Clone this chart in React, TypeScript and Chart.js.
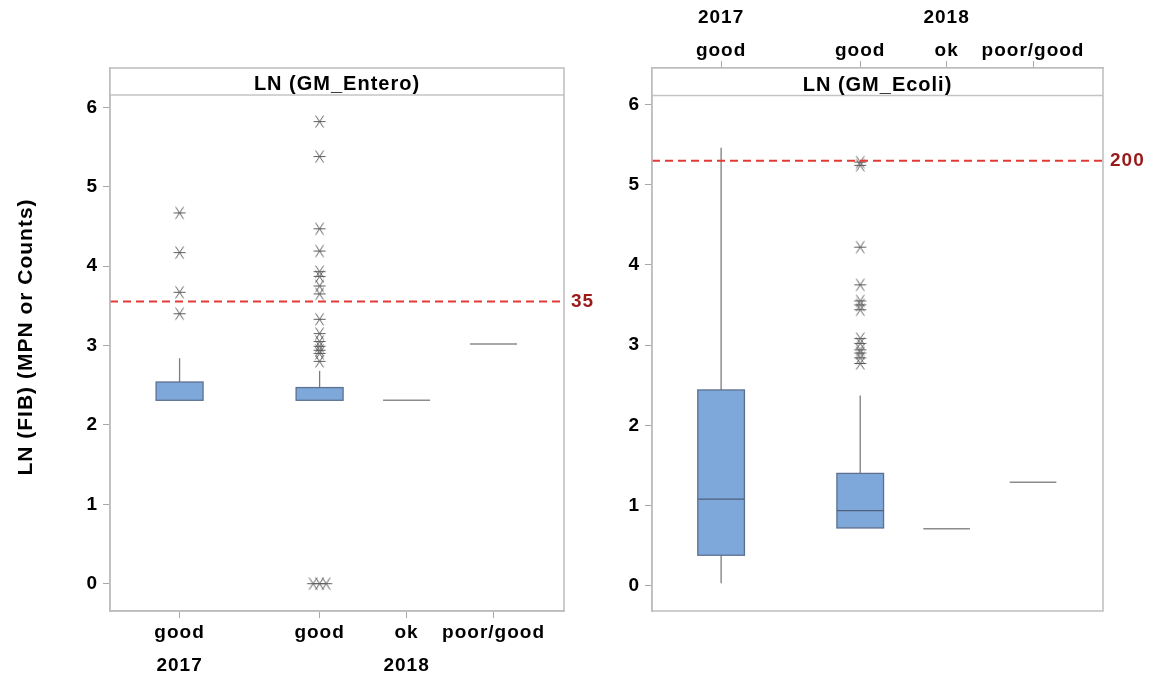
import React, { useEffect, useRef } from 'react';
import { Chart, registerables } from 'chart.js';
Chart.register(...registerables);

const FONT = "'Liberation Sans', Arial, sans-serif";

// Categories (shared by both panels)
const catPositions = [0.8, 2.41, 3.41, 4.41];
const catLabels = ['good', 'good', 'ok', 'poor/good'];
const yearPositions = [0.8, 3.41];
const yearLabels = ['2017', '2018'];
const yTickValues = [0, 1, 2, 3, 4, 5, 6];
const xMin = 0;
const xMax = 5.22;
const yAxisTitle = 'LN (FIB) (MPN or Counts)';

// LN(GM_Entero)
const enteroTitle = 'LN (GM_Entero)';
const enteroWhiskerLow = [2.31, 2.31, 2.31, 3.02];
const enteroQ1 = [2.31, 2.31, 2.31, 3.02];
const enteroMedian = [2.31, 2.31, 2.31, 3.02];
const enteroQ3 = [2.54, 2.47, 2.31, 3.02];
const enteroWhiskerHigh = [2.84, 2.68, 2.31, 3.02];
const enteroOutliers2017Good = [4.67, 4.17, 3.67, 3.4];
const enteroOutliers2018Good = [5.82, 5.38, 4.47, 4.19, 3.93, 3.87, 3.75, 3.65, 3.33, 3.15, 3.05, 2.99, 2.94, 2.9, 2.8];
const enteroZeros2018Good = [0, 0, 0];
const enteroZeroJitter = [-0.075, 0, 0.075];
const enteroRefValue = 3.555; // ln(35)
const enteroRefLabel = '35';

// LN(GM_Ecoli)
const ecoliTitle = 'LN (GM_Ecoli)';
const ecoliWhiskerLow = [0.03, 0.72, 0.71, 1.29];
const ecoliQ1 = [0.38, 0.72, 0.71, 1.29];
const ecoliMedian = [1.08, 0.935, 0.71, 1.29];
const ecoliQ3 = [2.44, 1.4, 0.71, 1.29];
const ecoliWhiskerHigh = [5.46, 2.37, 0.71, 1.29];
const ecoliOutliers2018Good = [5.28, 5.24, 4.22, 3.75, 3.55, 3.5, 3.44, 3.08, 3.02, 2.94, 2.9, 2.84, 2.77];
const ecoliRefValue = 5.298; // ln(200)
const ecoliRefLabel = '200';

function makeAsterisk(): HTMLCanvasElement {
  const c = document.createElement('canvas');
  c.width = 15;
  c.height = 15;
  const g = c.getContext('2d')!;
  g.strokeStyle = '#5c5c5c';
  g.lineWidth = 1;
  g.beginPath();
  g.moveTo(1.5, 7.5);
  g.lineTo(13.5, 7.5);
  g.moveTo(3.5, 1.5);
  g.lineTo(11.5, 13.5);
  g.moveTo(11.5, 1.5);
  g.lineTo(3.5, 13.5);
  g.stroke();
  return c;
}

type Spec = {
  title: string;
  low: number[];
  q1: number[];
  med: number[];
  q3: number[];
  high: number[];
  outliers: { x: number; y: number }[];
  ref: number;
  refLabel: string;
  yMin: number;
  yMax: number;
  boxHalf: number;
  axisPos: 'top' | 'bottom';
  yAxisWidth: number;
  catAxisHeight: number;
  yearAxisHeight: number;
  catPad: number;
  yearPad: number;
  padding: { left: number; right: number; top: number; bottom: number };
  stripH: number;
  showYTitle: boolean;
};

function panelPlugin(spec: Spec) {
  return {
    id: 'panelDecor',
    beforeDraw(chart: any) {
      chart.ctx.letterSpacing = '1px';
    },
    beforeDatasetsDraw(chart: any) {
      const { ctx, scales } = chart;
      const x = scales.x;
      const y = scales.y;
      ctx.save();
      for (let i = 0; i < catPositions.length; i++) {
        const cx = x.getPixelForValue(catPositions[i]);
        const hw = x.getPixelForValue(catPositions[i] + spec.boxHalf) - cx;
        const pq1 = y.getPixelForValue(spec.q1[i]);
        const pq3 = y.getPixelForValue(spec.q3[i]);
        const pm = y.getPixelForValue(spec.med[i]);
        const plo = y.getPixelForValue(spec.low[i]);
        const phi = y.getPixelForValue(spec.high[i]);
        ctx.strokeStyle = '#7c7c7c';
        ctx.lineWidth = 1.3;
        if (spec.high[i] > spec.q3[i]) {
          ctx.beginPath();
          ctx.moveTo(cx, pq3);
          ctx.lineTo(cx, phi);
          ctx.stroke();
        }
        if (spec.low[i] < spec.q1[i]) {
          ctx.beginPath();
          ctx.moveTo(cx, pq1);
          ctx.lineTo(cx, plo);
          ctx.stroke();
        }
        if (spec.q3[i] > spec.q1[i]) {
          ctx.fillStyle = '#7ea8da';
          ctx.fillRect(cx - hw, pq3, 2 * hw, pq1 - pq3);
          ctx.strokeStyle = '#5d7090';
          ctx.lineWidth = 1.3;
          ctx.strokeRect(cx - hw, pq3, 2 * hw, pq1 - pq3);
          if (spec.med[i] > spec.q1[i] && spec.med[i] < spec.q3[i]) {
            ctx.strokeStyle = '#4f6078';
            ctx.beginPath();
            ctx.moveTo(cx - hw, pm);
            ctx.lineTo(cx + hw, pm);
            ctx.stroke();
          }
        } else {
          ctx.strokeStyle = '#8c8c8c';
          ctx.lineWidth = 1.5;
          ctx.beginPath();
          ctx.moveTo(cx - hw, pm);
          ctx.lineTo(cx + hw, pm);
          ctx.stroke();
        }
      }
      ctx.restore();
    },
    afterDraw(chart: any) {
      const { ctx, chartArea, scales } = chart;
      const { left, right, top, bottom } = chartArea;
      ctx.save();
      // strip
      ctx.fillStyle = '#ffffff';
      ctx.fillRect(left, top, right - left, spec.stripH);
      ctx.strokeStyle = '#c4c4c4';
      ctx.lineWidth = 1.3;
      ctx.beginPath();
      ctx.moveTo(left, top + spec.stripH);
      ctx.lineTo(right, top + spec.stripH);
      ctx.stroke();
      // frame
      ctx.strokeStyle = '#bdbdbd';
      ctx.lineWidth = 1.5;
      ctx.strokeRect(left, top, right - left, bottom - top);
      // title
      ctx.letterSpacing = '1px';
      ctx.fillStyle = '#000';
      ctx.font = `bold 20px ${FONT}`;
      ctx.textAlign = 'center';
      ctx.textBaseline = 'alphabetic';
      ctx.fillText(spec.title, (left + right) / 2, top + spec.stripH - 5);
      // reference label
      const ry = scales.y.getPixelForValue(spec.ref);
      ctx.fillStyle = '#9a1a1a';
      ctx.font = `bold 19px ${FONT}`;
      ctx.textAlign = 'left';
      ctx.textBaseline = 'middle';
      ctx.fillText(spec.refLabel, right + 7, ry);
      if (spec.showYTitle) {
        ctx.translate(26, 337);
        ctx.rotate(-Math.PI / 2);
        ctx.fillStyle = '#000';
        ctx.font = `bold 21px ${FONT}`;
        ctx.textAlign = 'center';
        ctx.textBaseline = 'middle';
        ctx.fillText(yAxisTitle, 0, 0);
      }
      ctx.restore();
    },
  };
}

function buildConfig(spec: Spec, star: HTMLCanvasElement): any {
  return {
    type: 'scatter',
    data: {
      datasets: [
        {
          type: 'line',
          data: [
            { x: xMin, y: spec.ref },
            { x: xMax, y: spec.ref },
          ],
          borderColor: '#e33a36',
          borderWidth: 2,
          borderDash: [8, 5],
          pointRadius: 0,
          fill: false,
        },
        {
          type: 'scatter',
          data: spec.outliers,
          pointStyle: star,
          pointRadius: 6,
        },
      ],
    },
    plugins: [panelPlugin(spec)],
    options: {
      responsive: false,
      animation: false,
      events: [],
      layout: { padding: spec.padding },
      plugins: { legend: { display: false }, tooltip: { enabled: false }, title: { display: false } },
      scales: {
        x: {
          type: 'linear',
          position: spec.axisPos,
          min: xMin,
          max: xMax,
          weight: 0,
          afterBuildTicks: (s: any) => {
            s.ticks = catPositions.map((v) => ({ value: v }));
          },
          afterFit: (s: any) => {
            s.height = spec.catAxisHeight;
          },
          ticks: {
            autoSkip: false,
            maxRotation: 0,
            padding: spec.catPad,
            color: '#000',
            font: { family: FONT, size: 19, weight: 'bold' },
            callback: (_v: any, i: number) => catLabels[i],
          },
          grid: { drawOnChartArea: false, drawTicks: true, tickLength: 7, color: '#a8a8a8', lineWidth: 1 },
          border: { display: true, color: '#bdbdbd', width: 1.5 },
        },
        x2: {
          type: 'linear',
          position: spec.axisPos,
          min: xMin,
          max: xMax,
          weight: 1,
          afterBuildTicks: (s: any) => {
            s.ticks = yearPositions.map((v) => ({ value: v }));
          },
          afterFit: (s: any) => {
            s.height = spec.yearAxisHeight;
          },
          ticks: {
            autoSkip: false,
            maxRotation: 0,
            padding: spec.yearPad,
            color: '#000',
            font: { family: FONT, size: 19, weight: 'bold' },
            callback: (_v: any, i: number) => yearLabels[i],
          },
          grid: { display: false, drawTicks: false },
          border: { display: false },
        },
        y: {
          type: 'linear',
          min: spec.yMin,
          max: spec.yMax,
          afterBuildTicks: (s: any) => {
            s.ticks = yTickValues.map((v) => ({ value: v }));
          },
          afterFit: (s: any) => {
            s.width = spec.yAxisWidth;
          },
          ticks: {
            padding: 5,
            color: '#000',
            font: { family: FONT, size: 19, weight: 'bold' },
            callback: (v: any) => String(v),
          },
          grid: { drawOnChartArea: false, drawTicks: true, tickLength: 7, color: '#a8a8a8', lineWidth: 1 },
          border: { display: true, color: '#bdbdbd', width: 1.5 },
        },
      },
    },
  };
}

const enteroOutlierPoints = [
  ...enteroOutliers2017Good.map((v) => ({ x: catPositions[0], y: v })),
  ...enteroOutliers2018Good.map((v) => ({ x: catPositions[1], y: v })),
  ...enteroZeros2018Good.map((v, i) => ({ x: catPositions[1] + enteroZeroJitter[i], y: v })),
];
const ecoliOutlierPoints = ecoliOutliers2018Good.map((v) => ({ x: catPositions[1], y: v }));

const enteroSpec: Spec = {
  title: enteroTitle,
  low: enteroWhiskerLow,
  q1: enteroQ1,
  med: enteroMedian,
  q3: enteroQ3,
  high: enteroWhiskerHigh,
  outliers: enteroOutlierPoints,
  ref: enteroRefValue,
  refLabel: enteroRefLabel,
  yMin: -0.344,
  yMax: 6.495,
  boxHalf: 0.27,
  axisPos: 'bottom',
  yAxisWidth: 110,
  catAxisHeight: 34,
  yearAxisHeight: 32,
  catPad: 3,
  yearPad: 9,
  padding: { left: 0, right: 36, top: 68, bottom: 0 },
  stripH: 27,
  showYTitle: true,
};

const ecoliSpec: Spec = {
  title: ecoliTitle,
  low: ecoliWhiskerLow,
  q1: ecoliQ1,
  med: ecoliMedian,
  q3: ecoliQ3,
  high: ecoliWhiskerHigh,
  outliers: ecoliOutlierPoints,
  ref: ecoliRefValue,
  refLabel: ecoliRefLabel,
  yMin: -0.315,
  yMax: 6.453,
  boxHalf: 0.27,
  axisPos: 'top',
  yAxisWidth: 52,
  catAxisHeight: 35,
  yearAxisHeight: 33,
  catPad: -1,
  yearPad: 4,
  padding: { left: 0, right: 49, top: 0, bottom: 66 },
  stripH: 27.5,
  showYTitle: false,
};

function Panel({ spec, left, width }: { spec: Spec; left: number; width: number }) {
  const ref = useRef<HTMLCanvasElement>(null);
  useEffect(() => {
    const star = makeAsterisk();
    const chart = new Chart(ref.current!, buildConfig(spec, star));
    return () => chart.destroy();
  }, [spec]);
  return (
    <canvas
      ref={ref}
      width={width}
      height={677}
      style={{ position: 'absolute', left, top: 0, width, height: 677 }}
    />
  );
}

export default function App() {
  return (
    <div style={{ position: 'absolute', left: 0, top: 0, width: 1152, height: 677, background: '#fff', overflow: 'hidden' }}>
      <Panel spec={enteroSpec} left={0} width={600} />
      <Panel spec={ecoliSpec} left={600} width={552} />
    </div>
  );
}
